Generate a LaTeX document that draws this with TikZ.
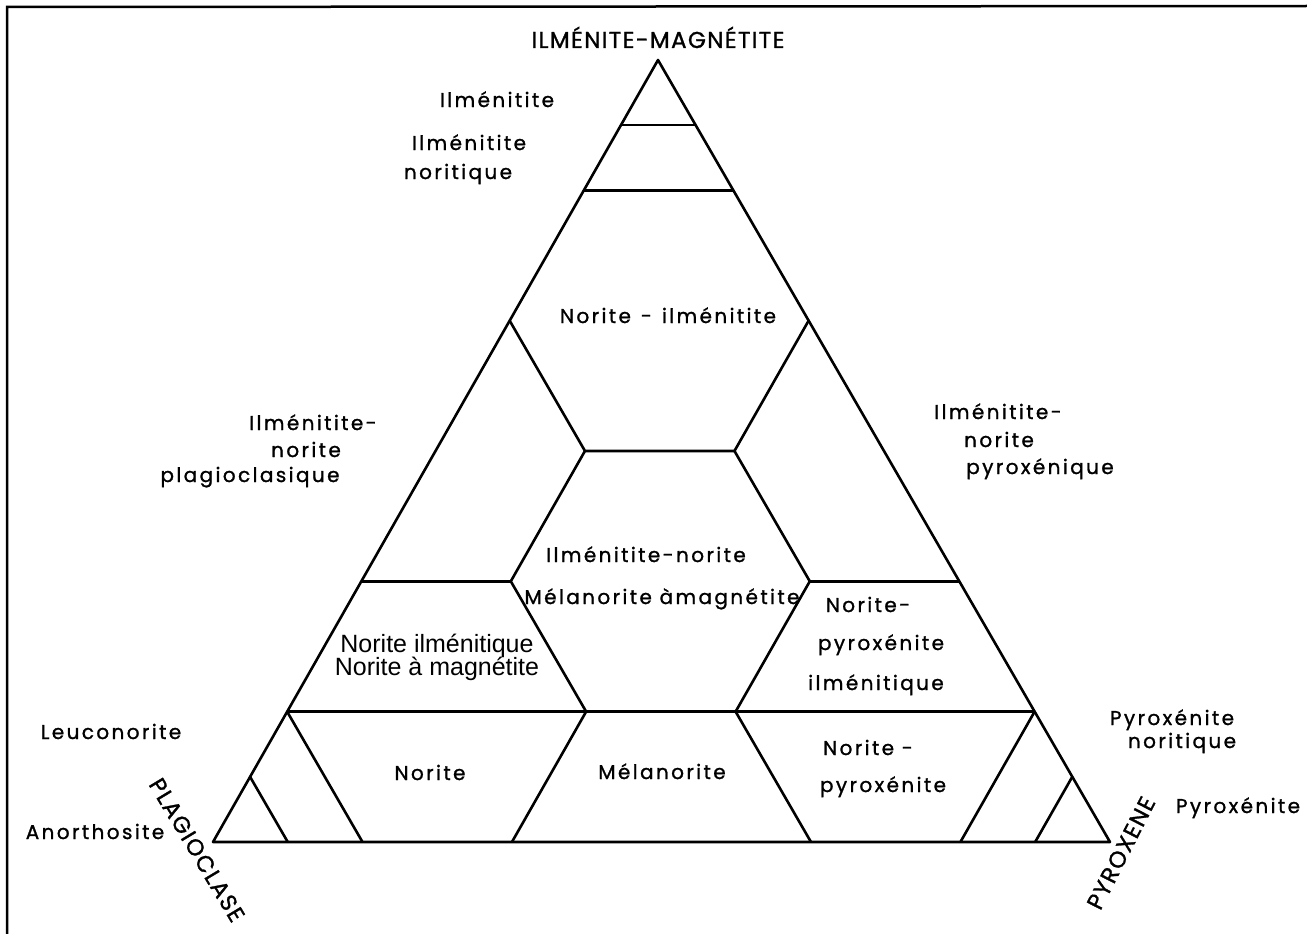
\documentclass[tikz,border=0pt]{standalone}
\usepackage{fontspec}
\setmainfont{Poppins}
\newfontfamily\gothic[LetterSpace=12,FakeBold=1.2]{Poppins}
\newfontfamily\gothiccaps[LetterSpace=6,FakeBold=1.2]{Poppins}
\newfontfamily\helv{Liberation Sans}
\tikzset{
  zone/.style={line width=2.6pt, line join=round},
  lab/.style={font={\gothic\fontsize{20}{24}\selectfont}, inner sep=0pt, anchor=base},
  helvlab/.style={font={\helv\fontsize{25}{28}\selectfont}, inner sep=0pt, anchor=base},
  corner/.style={font={\gothiccaps\fontsize{23}{26}\selectfont}, inner sep=0pt, anchor=base}
}
\begin{document}
\begin{tikzpicture}[x=1pt,y=-1pt]
  \useasboundingbox (0,0) rectangle (1307,934);
  %%%%% frame
  \draw[line width=2.5pt] (7,934) -- (7,7) -- (1307,6);

  %%%%% corners of the triangle
  \coordinate (pl) at (213,842);
  \coordinate (px) at (1110,842);
  \coordinate (im) at (658,60);

  \draw[zone] (pl) -- (px) -- (im) -- cycle;

  %%%%% top lines
  \draw[zone] (barycentric cs:pl=1,px=0,im=11) -- (barycentric cs:pl=0,px=1,im=11);
  \draw[zone] (barycentric cs:pl=2,px=0,im=10) -- (barycentric cs:pl=0,px=2,im=10);

  %%%%% upper hexagon
  \draw[zone] (barycentric cs:pl=4,px=0,im=8) -- (barycentric cs:pl=4,px=2,im=6)
    -- (barycentric cs:pl=2,px=4,im=6) -- (barycentric cs:pl=0,px=4,im=8);

  %%%%% middle hexagon
  \draw[zone] (barycentric cs:pl=4,px=2,im=6) -- (barycentric cs:pl=6,px=2,im=4)
    -- (barycentric cs:pl=6,px=4,im=2);
  \draw[zone] (barycentric cs:pl=2,px=4,im=6) -- (barycentric cs:pl=2,px=6,im=4)
    -- (barycentric cs:pl=4,px=6,im=2);
  \draw[zone] (barycentric cs:pl=8,px=0,im=4) -- (barycentric cs:pl=6,px=2,im=4);
  \draw[zone] (barycentric cs:pl=2,px=6,im=4) -- (barycentric cs:pl=0,px=8,im=4);

  %%%%% bottom row
  \draw[zone] (barycentric cs:pl=10,px=0,im=2) -- (barycentric cs:pl=0,px=10,im=2);
  \draw[zone] (barycentric cs:pl=10,px=0,im=2) -- (barycentric cs:pl=10,px=2,im=0);
  \draw[zone] (barycentric cs:pl=6,px=4,im=2) -- (barycentric cs:pl=8,px=4,im=0);
  \draw[zone] (barycentric cs:pl=4,px=6,im=2) -- (barycentric cs:pl=4,px=8,im=0);
  \draw[zone] (barycentric cs:pl=0,px=10,im=2) -- (barycentric cs:pl=2,px=10,im=0);
  \draw[zone] (barycentric cs:pl=11,px=0,im=1) -- (barycentric cs:pl=11,px=1,im=0);
  \draw[zone] (barycentric cs:pl=0,px=11,im=1) -- (barycentric cs:pl=1,px=11,im=0);

  %%%%% labels
  \node[corner] (tIM) at (658,48) {ILMÉNITE-MAGNÉTITE};
  \node[corner, rotate=-59, anchor=center] (tPL) at (197,850) {PLAGIOCLASE};
  \node[corner, rotate=63, anchor=center] (tPX) at (1121,853) {PYROXENE};

  \node[lab] (ilm) at (497,107) {Ilménitite};
  \node[lab] (ilnA) at (469,150) {Ilménitite};
  \node[lab] (ilnB) at (458,179) {noritique};
  \node[lab] (nilm) at (668,323) {Norite\hspace{10pt}-\hspace{10pt}ilménitite};

  \node[lab] (inpA) at (313,430) {Ilménitite-};
  \node[lab] (inpB) at (306,457) {norite};
  \node[lab] (inpC) at (250,482) {plagioclasique};

  \node[lab] (inxA) at (998,419) {Ilménitite-};
  \node[lab] (inxB) at (999,447) {norite};
  \node[lab] (inxC) at (1040,474) {pyroxénique};

  \node[lab] (inm) at (646,562) {Ilménitite-norite};
  \node[lab] (mam) at (662,604) {Mélanorite àmagnétite};

  \node[helvlab] (nimA) at (437,652) {Norite ilménitique};
  \node[helvlab] (nimB) at (437,675) {Norite à magnétite};

  \node[lab] (npiA) at (868,612) {Norite-};
  \node[lab] (npiB) at (881,650) {pyroxénite};
  \node[lab] (npiC) at (876,690) {ilménitique};

  \node[lab] (leuco) at (111,739) {Leuconorite};
  \node[lab] (anor) at (95,839) {Anorthosite};
  \node[lab] (nor) at (430,780) {Norite};
  \node[lab] (mel) at (662,779) {Mélanorite};
  \node[lab] (npA) at (868,755) {Norite -};
  \node[lab] (npB) at (883,792) {pyroxénite};
  \node[lab] (pnA) at (1172,725) {Pyroxénite};
  \node[lab] (pnB) at (1182,748) {noritique};
  \node[lab] (pyr) at (1238,813) {Pyroxénite};
\end{tikzpicture}
\end{document}
